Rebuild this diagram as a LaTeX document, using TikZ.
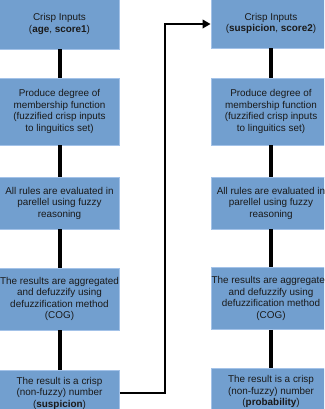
\documentclass[tikz,border=0pt]{standalone}
\usepackage{fontspec}
\setmainfont{Liberation Sans}
\usetikzlibrary{arrows.meta}
\definecolor{boxfill}{HTML}{729FCF}
\definecolor{boxedge}{HTML}{A3C2E8}
\definecolor{ink}{HTML}{1A1A1A}
\begin{document}
\begin{tikzpicture}[x=1pt,y=-1pt,
  stepbox/.style={rectangle, fill=boxfill, draw=boxedge, line width=0.8pt,
    minimum width=120pt, inner sep=0pt, align=center, text=ink,
    font=\fontsize{9.9}{11.5}\selectfont},
  link/.style={line width=4pt, draw=black},
  flow/.style={line width=2.7pt, draw=black, line join=miter,
    -{Triangle[length=8pt,width=8.5pt]}}]
\useasboundingbox (0,0) rectangle (324,409);
\clip (0,0) rectangle (324,409);

% left chain
\node[stepbox, minimum height=50pt] (l1) at (59.5,24) {Crisp Inputs\\(\textbf{age}, \textbf{score1})};
\node[stepbox, minimum height=67pt] (l2) at (59.5,111.5) {Produce degree of\\membership function\\(fuzzified crisp inputs\\to linguitics set)};
\node[stepbox, minimum height=52pt] (l3) at (59.5,203) {All rules are evaluated in\\parellel using fuzzy\\reasoning};
\node[stepbox, minimum height=62pt] (l4) at (59.5,299) {The results are aggregated\\and defuzzify using\\defuzzification method\\(COG)};
\node[stepbox, minimum height=46pt] (l5) at (59.5,393) {The result is a crisp\\(non-fuzzy) number\\(\textbf{suspicion})};

% right chain
\node[stepbox, minimum height=49pt] (r1) at (271,23.5) {Crisp Inputs\\(\textbf{suspicion}, \textbf{score2})};
\node[stepbox, minimum height=67pt] (r2) at (271,111.5) {Produce degree of\\membership function\\(fuzzified crisp inputs\\to linguitics set)};
\node[stepbox, minimum height=52pt] (r3) at (271,203) {All rules are evaluated in\\parellel using fuzzy\\reasoning};
\node[stepbox, minimum height=62pt] (r4) at (271,298.5) {The results are aggregated\\and defuzzify using\\defuzzification method\\(COG)};
\node[stepbox, minimum height=46pt] (r5) at (271,391.5) {The result is a crisp\\(non-fuzzy) number\\(\textbf{probability})};

\foreach \a/\b in {l1/l2,l2/l3,l3/l4,l4/l5,r1/r2,r2/r3,r3/r4,r4/r5}
  \draw[link] (\a.south) -- (\b.north);

% hand-over from the first chain to the second
\coordinate (turn) at (165,24);
\draw[flow] (l5.east |- 0,393) -| (turn) -- (r1.west |- turn);
\end{tikzpicture}
\end{document}
